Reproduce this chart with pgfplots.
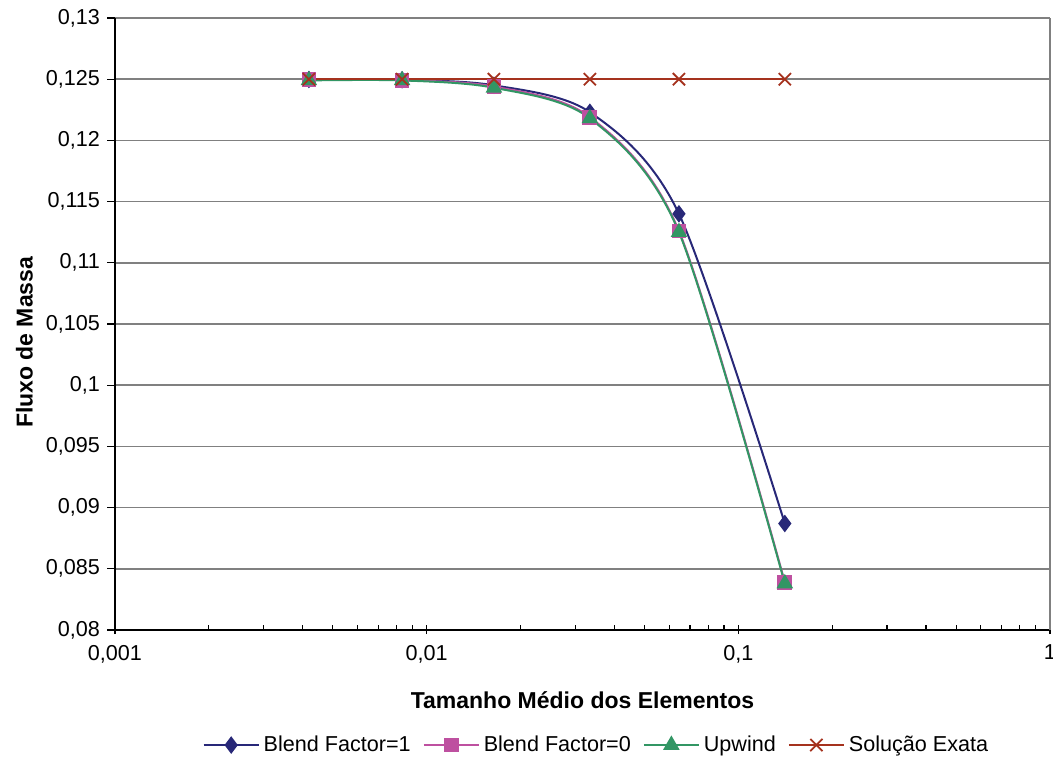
\documentclass[border=0pt]{standalone}
\usepackage{pgfplots}
\pgfplotsset{compat=1.18}
\usepackage{fontspec}
\setmainfont{Liberation Sans}
\definecolor{cB1}{RGB}{40,40,120}
\definecolor{cB0}{RGB}{190,80,160}
\definecolor{cUp}{RGB}{50,150,100}
\definecolor{cEx}{RGB}{165,50,30}
\begin{document}
\begin{tikzpicture}
\begin{axis}[
  name=ax,
  width=467.5pt, height=306pt, scale only axis,
  xmode=log, xmin=0.001, xmax=1, ymin=0.08, ymax=0.13,
  xtick={0.001,0.01,0.1,1},
  xticklabels={{0,001},{0,01},{0,1},{1}},
  ytick={0.08,0.085,0.09,0.095,0.1,0.105,0.11,0.115,0.12,0.125,0.13},
  yticklabels={{0,08},{0,085},{0,09},{0,095},{0,1},{0,105},{0,11},{0,115},{0,12},{0,125},{0,13}},
  axis x line*=bottom, axis y line*=left,
  axis line style={black, line width=0.8pt, -},
  tick align=outside,
  major tick length=4pt, minor tick length=2.5pt,
  every major x tick/.append style={yshift=2pt},
  every minor x tick/.append style={yshift=2.5pt},
  tick style={black, line width=0.6pt},
  ymajorgrids, grid style={black!50, line width=0.8pt},
  ticklabel style={font=\fontsize{10.8}{12}\selectfont},
  xlabel={Tamanho Médio dos Elementos},
  ylabel={Fluxo de Massa},
  xlabel style={font=\bfseries\fontsize{11.5}{13}\selectfont, at={(axis description cs:0.5,-0.1144)}, anchor=center},
  ylabel style={font=\bfseries\fontsize{11.5}{13}\selectfont, at={(axis description cs:-0.097,0.47)}, anchor=center},
  legend style={at={(axis description cs:0.516,-0.188)}, anchor=center, draw=none,
    font=\fontsize{10.8}{12}\selectfont,
    /tikz/every even column/.append style={column sep=4pt}},
  legend columns=4,
  legend image code/.code={\draw[mark repeat=2,mark phase=2,#1] plot coordinates {(0pt,0pt) (13.75pt,0pt) (27.5pt,0pt)};},
  clip=false,
]
\addplot[color=cB1, line width=1pt, smooth, mark=diamond*, mark size=3.6pt, mark options={solid, fill=cB1}] table {
x y
0.00419 0.12498
0.00834 0.12495
0.01644 0.1245
0.0334 0.1223
0.0645 0.1140
0.141 0.0887
};
\addlegendentry{Blend Factor=1}
\addplot[color=cB0, line width=1pt, smooth, mark=square*, mark size=3.2pt, mark options={solid, fill=cB0}] table {
x y
0.00419 0.12495
0.00834 0.12492
0.01644 0.1244
0.0334 0.1219
0.0645 0.1126
0.141 0.0839
};
\addlegendentry{Blend Factor=0}
\addplot[color=cUp, line width=1pt, smooth, mark=triangle*, mark size=3.8pt, mark options={solid, fill=cUp}] table {
x y
0.00419 0.1249
0.00834 0.1249
0.01644 0.1243
0.0334 0.1218
0.0645 0.1125
0.141 0.0838
};
\addlegendentry{Upwind}
\addplot[color=cEx, line width=1pt, mark=x, mark size=4.3pt, mark options={solid, line width=0.9pt}] table {
x y
0.00419 0.125
0.00834 0.125
0.01644 0.125
0.0334 0.125
0.0645 0.125
0.141 0.125
};
\addlegendentry{Solução Exata}
\draw[black!50, line width=0.8pt] (rel axis cs:1,0) -- (rel axis cs:1,1);
\end{axis}
\pgfresetboundingbox
\path[use as bounding box] (ax.south west) ++(-57.5pt,-65pt) rectangle ([xshift=1.5pt,yshift=9pt]ax.north east);
\end{tikzpicture}
\end{document}
